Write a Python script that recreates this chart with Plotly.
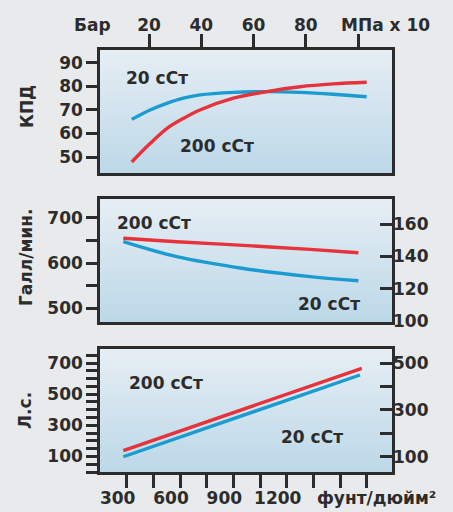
import plotly.graph_objects as go

# ---------------- data ----------------
# Panel 1: efficiency (КПД, %) vs pressure (bar, top axis)
eff_x_bar = [13.4, 20.4, 26.8, 33.1, 39.5, 52.3, 65.0, 77.8, 90.5, 103.3]
eff_20cst = [66.0, 70.0, 72.8, 75.0, 76.4, 77.5, 77.8, 77.5, 76.7, 75.6]
eff_200cst = [47.9, 55.7, 62.1, 66.4, 70.0, 75.0, 77.8, 79.9, 81.1, 81.8]

# Panel 2: flow (Галл/мин.) vs pressure (psi)
flow_x = [281, 581, 956, 1331, 1603]
flow_20cst = [647, 614, 588, 570, 561]
flow_200cst = [654.5, 647, 639, 630, 622.7]

# Panel 3: power (Л.с.) vs pressure (psi)
hp_x_200 = [281, 938, 1622]
hp_200cst = [137, 398, 666]
hp_x_20 = [281, 938, 1612]
hp_20cst = [98, 360, 623]

# axis ticks / labels
psi_ticks = [300, 450, 600, 750, 900, 1050, 1200, 1350, 1500, 1650]
psi_labels = ["300", "", "600", "", "900", "", "1200", "", "", ""]
bar_ticks = [20, 40, 60, 80, 100]
bar_labels = ["20", "40", "60", "80", ""]
eff_ticks = [50, 60, 70, 80, 90]
flow_ticks = [500, 600, 700]
flow_minor = [550, 650]
flow_r_ticks = [100, 120, 140, 160]
hp_ticks = [100, 300, 500, 700]
hp_minor = [0, 50, 150, 200, 250, 350, 400, 450, 550, 600, 650, 750]
hp_r_ticks = [100, 300, 500]
hp_r_minor = [200, 400]

# ranges
psi_range = [150, 1792]
bar_range = [1.24, 113.0]
eff_range = [43.2, 95.5]
flow_range = [469.8, 741.3]
flow_r_range = [99.4, 175.5]
hp_range = [0, 790]
hp_r_range = [34.5, 560]

RED = "#e5323b"
BLUE = "#1b9bcf"
INK = "#2c2c2c"
FONT = "DejaVu Sans"
W, H = 453, 512

fig = go.Figure()

grad = dict(type="vertical", colorscale=[[0, "#bcd8e8"], [1, "#e6eef4"]])


def bg(xa, ya, xr, yr):
    fig.add_trace(go.Scatter(
        x=[xr[0], xr[1], xr[1], xr[0], xr[0]],
        y=[yr[0], yr[0], yr[1], yr[1], yr[0]],
        fill="toself", mode="none", hoverinfo="skip", showlegend=False,
        fillgradient=dict(grad, start=yr[0], stop=yr[1]),
        xaxis=xa, yaxis=ya))


bg("x", "y", bar_range, eff_range)
bg("x2", "y2", psi_range, flow_range)
bg("x3", "y3", psi_range, hp_range)

# empty carriers so the secondary (overlaying) right axes get drawn
fig.add_trace(go.Scatter(x=psi_range, y=[None, None], mode="lines", hoverinfo="skip",
                         showlegend=False, xaxis="x2", yaxis="y5"))
fig.add_trace(go.Scatter(x=psi_range, y=[None, None], mode="lines", hoverinfo="skip",
                         showlegend=False, xaxis="x3", yaxis="y6"))

lw = 3.4
fig.add_trace(go.Scatter(x=eff_x_bar, y=eff_20cst, mode="lines", line=dict(color=BLUE, width=lw, shape="spline"), xaxis="x", yaxis="y", showlegend=False))
fig.add_trace(go.Scatter(x=eff_x_bar, y=eff_200cst, mode="lines", line=dict(color=RED, width=lw, shape="spline"), xaxis="x", yaxis="y", showlegend=False))
fig.add_trace(go.Scatter(x=flow_x, y=flow_20cst, mode="lines", line=dict(color=BLUE, width=lw, shape="spline"), xaxis="x2", yaxis="y2", showlegend=False))
fig.add_trace(go.Scatter(x=flow_x, y=flow_200cst, mode="lines", line=dict(color=RED, width=lw, shape="spline"), xaxis="x2", yaxis="y2", showlegend=False))
fig.add_trace(go.Scatter(x=hp_x_20, y=hp_20cst, mode="lines", line=dict(color=BLUE, width=lw), xaxis="x3", yaxis="y3", showlegend=False))
fig.add_trace(go.Scatter(x=hp_x_200, y=hp_200cst, mode="lines", line=dict(color=RED, width=lw), xaxis="x3", yaxis="y3", showlegend=False))

xd = [100 / W, 392 / W]
d1 = [1 - 173 / H, 1 - 50 / H]
d2 = [1 - 322 / H, 1 - 199 / H]
d3 = [1 - 472 / H, 1 - 349 / H]

tf = dict(family=FONT, size=17, color=INK, weight="bold")
box = dict(showline=True, linecolor=INK, linewidth=2.6, mirror=True, showgrid=False,
           zeroline=False, automargin=False)
tk = dict(tickcolor=INK, tickwidth=2.6, ticklen=11, tickfont=tf)
sec = dict(showgrid=False, zeroline=False, showline=False, automargin=False)

fig.update_layout(
    width=W, height=H, margin=dict(l=0, r=0, t=0, b=0, autoexpand=False),
    paper_bgcolor="#e8eaec", plot_bgcolor="rgba(0,0,0,0)",
    showlegend=False,
    font=dict(family=FONT, color=INK),
    xaxis=dict(domain=xd, anchor="y", side="top", range=bar_range, tickmode="array",
               tickvals=bar_ticks, ticktext=bar_labels, ticks="outside", ticklabelstandoff=-4,
               **dict(tk, ticklen=13), **box),
    xaxis2=dict(domain=xd, anchor="y2", range=psi_range, showticklabels=False, ticks="", **box),
    xaxis3=dict(domain=xd, anchor="y3", range=psi_range, tickmode="array", tickvals=psi_ticks,
                ticktext=psi_labels, ticks="outside", ticklabelshift=-9, ticklabelstandoff=-4,
                **dict(tk, ticklen=13), **box),
    yaxis=dict(domain=d1, anchor="x", range=eff_range, tickmode="array", tickvals=eff_ticks,
               ticks="outside", **tk, **box),
    yaxis2=dict(domain=d2, anchor="x2", range=flow_range, tickmode="array", tickvals=flow_ticks,
                ticks="outside", minor=dict(tickvals=flow_minor, ticks="outside", ticklen=11,
                                            tickwidth=2.6, tickcolor=INK),
                **tk, **box),
    yaxis3=dict(domain=d3, anchor="x3", range=hp_range, tickmode="array", tickvals=hp_ticks,
                ticks="outside", minor=dict(tickvals=hp_minor, ticks="outside", ticklen=11,
                                            tickwidth=2.6, tickcolor=INK),
                **tk, **box),
    yaxis5=dict(overlaying="y2", side="right", anchor="x2", range=flow_r_range, tickmode="array",
                tickvals=flow_r_ticks, ticks="inside", **sec, **dict(tk, ticklen=12)),
    yaxis6=dict(overlaying="y3", side="right", anchor="x3", range=hp_r_range, tickmode="array",
                tickvals=hp_r_ticks, ticks="inside", **sec,
                minor=dict(tickvals=hp_r_minor, ticks="inside", ticklen=12,
                           tickwidth=2.6, tickcolor=INK),
                **dict(tk, ticklen=12)),
)


def ann(text, px, py, angle=0, size=17):
    fig.add_annotation(text=text, x=px / W, y=1 - py / H, xref="paper", yref="paper",
                       showarrow=False, textangle=angle, xanchor="center", yanchor="middle",
                       font=dict(family=FONT, size=size, color=INK, weight="bold"))


# axis titles / units
ann("Бар", 92, 25)
ann("МПа x 10", 385, 25)
ann("фунт/дюйм²", 376, 498)
ann("КПД", 27, 107, -90)
ann("Галл/мин.", 26, 258, -90)
ann("Л.с.", 25, 411, -90)

# series labels
ann("20 сСт", 157, 78)
ann("200 сСт", 217, 146)
ann("200 сСт", 154, 223)
ann("20 сСт", 329, 304)
ann("200 сСт", 166, 383)
ann("20 сСт", 312, 437)

fig.write_html(
    "out.html",
    config={"displayModeBar": False},
    post_script="document.body.style.margin='0';document.body.style.overflow='hidden';"
                "document.body.style.background='#e8eaec';",
)
